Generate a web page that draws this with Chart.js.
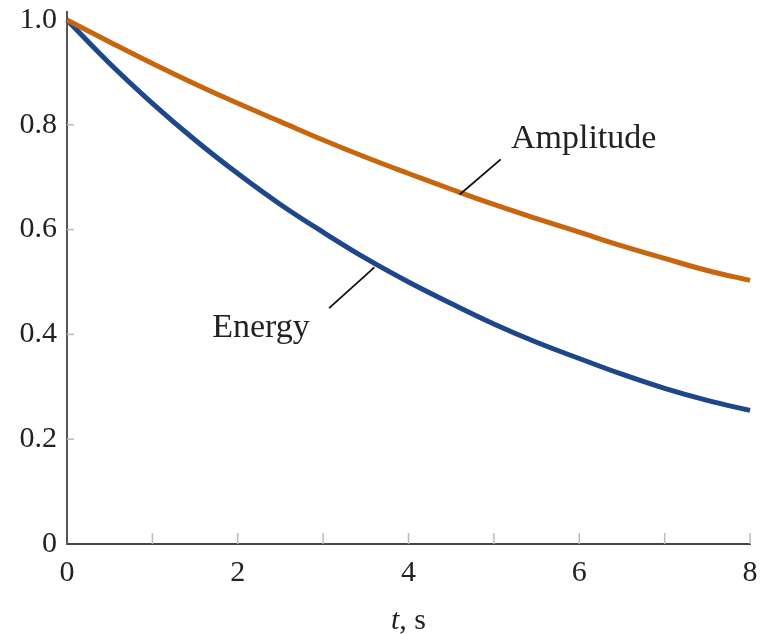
<!DOCTYPE html>
<html>
<head>
<meta charset="utf-8">
<script src="https://cdn.jsdelivr.net/npm/chart.js@4"></script>
<style>
  html, body { margin: 0; padding: 0; background: #fff; }
  #wrap { width: 760px; height: 634px; }
</style>
</head>
<body>
<div id="wrap"><canvas id="decay"></canvas></div>
<script>
// time in seconds
var times = [0, 0.5, 1, 1.5, 2, 2.5, 3, 3.5, 4, 4.5, 5, 5.5, 6, 6.5, 7, 7.5, 8];
var amplitude = [1.0, 0.958, 0.917, 0.878, 0.841, 0.806, 0.771, 0.738, 0.707,
                 0.677, 0.648, 0.621, 0.595, 0.569, 0.545, 0.522, 0.503];
var energy = [1.0, 0.917, 0.841, 0.771, 0.707, 0.648, 0.595, 0.545, 0.50,
              0.459, 0.420, 0.385, 0.354, 0.324, 0.297, 0.274, 0.255];
var xTicks = [0, 1, 2, 3, 4, 5, 6, 7, 8];
var yTicks = [0, 0.2, 0.4, 0.6, 0.8, 1.0];

var serif = '"Liberation Serif", "DejaVu Serif", serif';

// inside tick marks, leader lines and text labels
var decorations = {
    id: 'decorations',
    afterDraw: function(chart) {
        var ctx = chart.ctx;
        var x = chart.scales.x, y = chart.scales.y;
        ctx.save();
        // y axis runs a little past 1.0
        ctx.strokeStyle = '#555';
        ctx.lineWidth = 2;
        ctx.beginPath();
        ctx.moveTo(x.left, y.top);
        ctx.lineTo(x.left, y.top - 9);
        ctx.stroke();

        ctx.strokeStyle = '#bbb';
        ctx.lineWidth = 1.5;
        xTicks.forEach(function(t) {
            if (t === 0) return;
            var px = x.getPixelForValue(t);
            ctx.beginPath();
            ctx.moveTo(px, y.bottom);
            ctx.lineTo(px, y.bottom - 11);
            ctx.stroke();
        });
        yTicks.forEach(function(v) {
            if (v === 0 || v === 1) return;
            var py = y.getPixelForValue(v);
            ctx.beginPath();
            ctx.moveTo(x.left, py);
            ctx.lineTo(x.left + 7, py);
            ctx.stroke();
        });

        // leader lines
        ctx.strokeStyle = '#111';
        ctx.lineWidth = 1.8;
        ctx.beginPath();
        ctx.moveTo(x.getPixelForValue(4.6), y.getPixelForValue(0.667));
        ctx.lineTo(x.getPixelForValue(5.08), y.getPixelForValue(0.734));
        ctx.moveTo(x.getPixelForValue(3.6), y.getPixelForValue(0.528));
        ctx.lineTo(x.getPixelForValue(3.07), y.getPixelForValue(0.45));
        ctx.stroke();

        ctx.fillStyle = '#222';
        ctx.font = '34px ' + serif;
        ctx.textBaseline = 'middle';
        ctx.textAlign = 'left';
        ctx.fillText('Amplitude', x.getPixelForValue(5.2), y.getPixelForValue(0.772));
        ctx.fillText('Energy', x.getPixelForValue(1.70), y.getPixelForValue(0.413));

        // axis title: italic t
        var cx = (x.left + x.right) / 2;
        ctx.font = 'italic 30px ' + serif;
        var tw = ctx.measureText('t').width;
        ctx.font = '30px ' + serif;
        var rw = ctx.measureText(', s').width;
        var start = cx - (tw + rw) / 2;
        ctx.font = 'italic 30px ' + serif;
        ctx.fillText('t', start, 621);
        ctx.font = '30px ' + serif;
        ctx.fillText(', s', start + tw, 621);
        ctx.restore();
    }
};

new Chart(document.getElementById('decay'), {
    type: 'line',
    data: {
        labels: times,
        datasets: [{
            label: 'Amplitude',
            data: times.map(function(t, i) { return {x: t, y: amplitude[i]}; }),
            borderColor: '#c8660e',
            borderWidth: 5,
            pointRadius: 0,
            tension: 0.4,
            clip: false
        }, {
            label: 'Energy',
            data: times.map(function(t, i) { return {x: t, y: energy[i]}; }),
            borderColor: '#1e468a',
            borderWidth: 5,
            pointRadius: 0,
            tension: 0.4,
            clip: false
        }]
    },
    options: {
        responsive: true,
        maintainAspectRatio: false,
        animation: false,
        layout: { padding: { top: 20, right: 10, left: 0, bottom: 0 } },
        plugins: {
            legend: { display: false },
            tooltip: { enabled: false }
        },
        scales: {
            x: {
                type: 'linear',
                min: 0,
                max: 8,
                afterFit: function(s) {
                    s.height = 90;
                    s.paddingLeft = 0;
                    s.paddingRight = 0;
                },
                afterBuildTicks: function(s) {
                    s.ticks = xTicks.map(function(v) { return {value: v}; });
                },
                grid: { drawOnChartArea: false, drawTicks: false },
                border: { display: true, color: '#444', width: 2 },
                ticks: {
                    color: '#222',
                    padding: 11,
                    font: { family: serif, size: 30 },
                    callback: function(v) { return v % 2 === 0 ? String(v) : ''; }
                }
            },
            y: {
                min: 0,
                max: 1,
                afterFit: function(s) {
                    s.width = 67;
                    s.paddingTop = 0;
                    s.paddingBottom = 0;
                },
                afterBuildTicks: function(s) {
                    s.ticks = yTicks.map(function(v) { return {value: v}; });
                },
                grid: { drawOnChartArea: false, drawTicks: false },
                border: { display: true, color: '#555', width: 2 },
                ticks: {
                    color: '#222',
                    padding: 10,
                    font: { family: serif, size: 30 },
                    callback: function(v) { return v === 0 ? '0' : v.toFixed(1); }
                }
            }
        }
    },
    plugins: [decorations]
});
</script>
</body>
</html>
